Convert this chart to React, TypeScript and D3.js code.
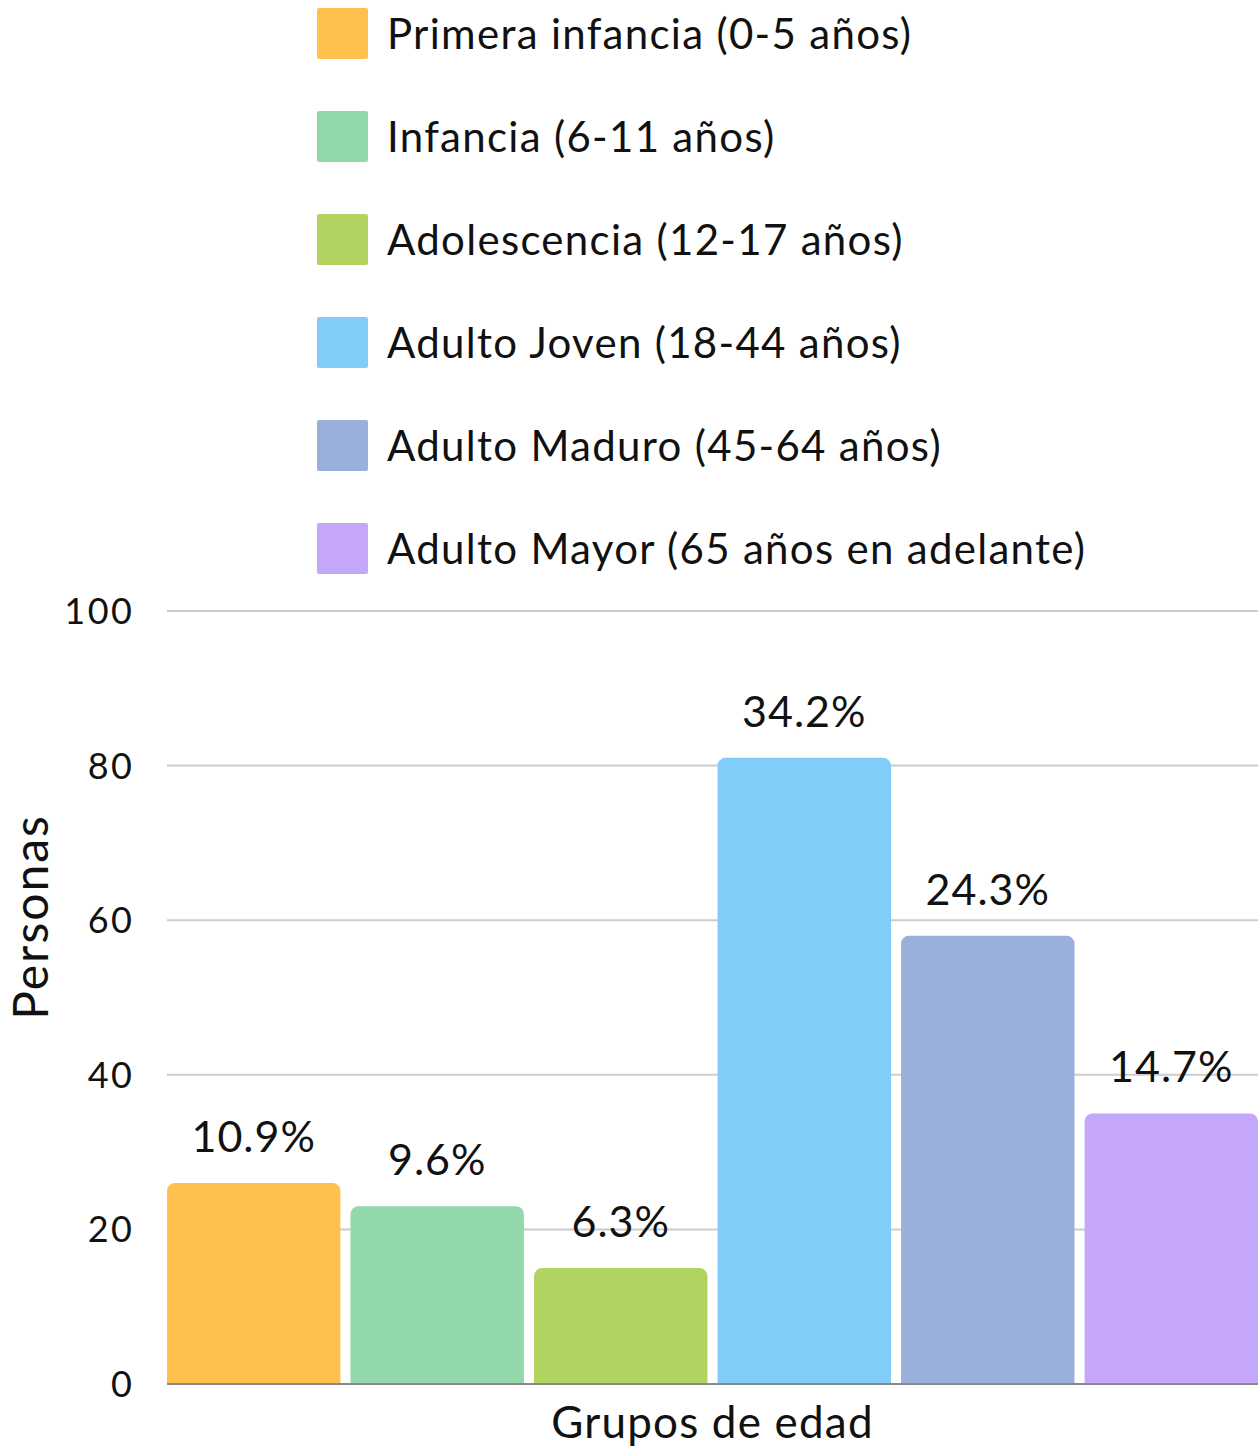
import * as d3 from 'd3';
import { useEffect, useRef } from 'react';

// Age groups and counts
const CATEGORIES = [
  'Primera infancia (0-5 años)',
  'Infancia (6-11 años)',
  'Adolescencia (12-17 años)',
  'Adulto Joven (18-44 años)',
  'Adulto Maduro (45-64 años)',
  'Adulto Mayor (65 años en adelante)',
];
const VALUES = [26, 23, 15, 81, 58, 35];
const PERCENT_LABELS = ['10.9%', '9.6%', '6.3%', '34.2%', '24.3%', '14.7%'];
const COLORS = ['#FFC04F', '#93D8AC', '#B1D360', '#81CDF9', '#98B0DA', '#C4A6FB'];
const Y_TICKS = [0, 20, 40, 60, 80, 100];

const WIDTH = 1258;
const HEIGHT = 1446;
const FONT = 'Lato, "Open Sans", sans-serif';
const WEIGHT = 400;

export default function App() {
  const svgRef = useRef<SVGSVGElement>(null);

  useEffect(() => {
    if (!svgRef.current) return;
    const svg = d3.select(svgRef.current);
    svg.selectAll('*').remove();

    const x = d3
      .scaleBand<string>()
      .domain(CATEGORIES)
      .range([167, 1258])
      .paddingInner(0.055)
      .paddingOuter(0);

    const y = d3.scaleLinear().domain([0, 100]).range([1384, 611]);

    // Legend
    const legend = svg
      .append('g')
      .selectAll('g')
      .data(CATEGORIES)
      .enter()
      .append('g')
      .attr('transform', (_d, i) => `translate(317, ${8 + i * 103})`);

    legend
      .append('rect')
      .attr('width', 51)
      .attr('height', 51)
      .attr('rx', 2)
      .attr('fill', (_d, i) => COLORS[i]);

    legend
      .append('text')
      .attr('x', 70)
      .attr('y', 26)
      .attr('dy', '0.36em')
      .attr('font-family', FONT)
      .attr('font-weight', WEIGHT)
      .attr('font-size', 42)
      .attr('letter-spacing', 1.3)
      .attr('fill', '#111')
      .text((d) => d);

    // Gridlines
    svg
      .append('g')
      .selectAll('line')
      .data(Y_TICKS.filter((t) => t > 0))
      .enter()
      .append('line')
      .attr('x1', 167)
      .attr('x2', WIDTH)
      .attr('y1', (d) => y(d))
      .attr('y2', (d) => y(d))
      .attr('stroke', '#cccccc')
      .attr('stroke-width', 2);

    // Y tick labels
    svg
      .append('g')
      .selectAll('text')
      .data(Y_TICKS)
      .enter()
      .append('text')
      .attr('x', 134.5)
      .attr('y', (d) => y(d))
      .attr('dy', '0.36em')
      .attr('text-anchor', 'end')
      .attr('font-family', FONT)
      .attr('font-weight', WEIGHT)
      .attr('font-size', 36)
      .attr('letter-spacing', 2.5)
      .attr('fill', '#111')
      .text((d) => d);

    // Bars with rounded top corners
    const r = 8;
    const barPath = (x0: number, w: number, top: number, bottom: number) => {
      const p = d3.path();
      p.moveTo(x0, bottom);
      p.lineTo(x0, top + r);
      p.arcTo(x0, top, x0 + r, top, r);
      p.lineTo(x0 + w - r, top);
      p.arcTo(x0 + w, top, x0 + w, top + r, r);
      p.lineTo(x0 + w, bottom);
      p.closePath();
      return p.toString();
    };

    svg
      .append('g')
      .selectAll('path')
      .data(VALUES)
      .enter()
      .append('path')
      .attr('d', (d, i) => barPath(x(CATEGORIES[i])!, x.bandwidth(), y(d), y(0)))
      .attr('fill', (_d, i) => COLORS[i]);

    // Baseline
    svg
      .append('line')
      .attr('x1', 167)
      .attr('x2', WIDTH)
      .attr('y1', y(0))
      .attr('y2', y(0))
      .attr('stroke', '#8a8a8a')
      .attr('stroke-width', 2);

    // Percentage labels
    svg
      .append('g')
      .selectAll('text')
      .data(VALUES)
      .enter()
      .append('text')
      .attr('x', (_d, i) => x(CATEGORIES[i])! + x.bandwidth() / 2)
      .attr('y', (d) => y(d) - 31)
      .attr('text-anchor', 'middle')
      .attr('font-family', FONT)
      .attr('font-weight', WEIGHT)
      .attr('font-size', 43)
      .attr('letter-spacing', 1)
      .attr('fill', '#111')
      .text((_d, i) => PERCENT_LABELS[i]);

    // Axis titles
    svg
      .append('text')
      .attr('transform', `translate(48, 917) rotate(-90)`)
      .attr('text-anchor', 'middle')
      .attr('font-family', FONT)
      .attr('font-weight', WEIGHT)
      .attr('font-size', 48)
      .attr('letter-spacing', 2)
      .attr('fill', '#111')
      .text('Personas');

    svg
      .append('text')
      .attr('x', (167 + WIDTH) / 2)
      .attr('y', 1438)
      .attr('text-anchor', 'middle')
      .attr('font-family', FONT)
      .attr('font-weight', WEIGHT)
      .attr('font-size', 44)
      .attr('letter-spacing', 1.2)
      .attr('fill', '#111')
      .text('Grupos de edad');
  }, []);

  return (
    <div style={{ position: 'absolute', top: 0, left: 0, width: WIDTH, height: HEIGHT, background: '#fff' }}>
      <svg ref={svgRef} width={WIDTH} height={HEIGHT} />
    </div>
  );
}
